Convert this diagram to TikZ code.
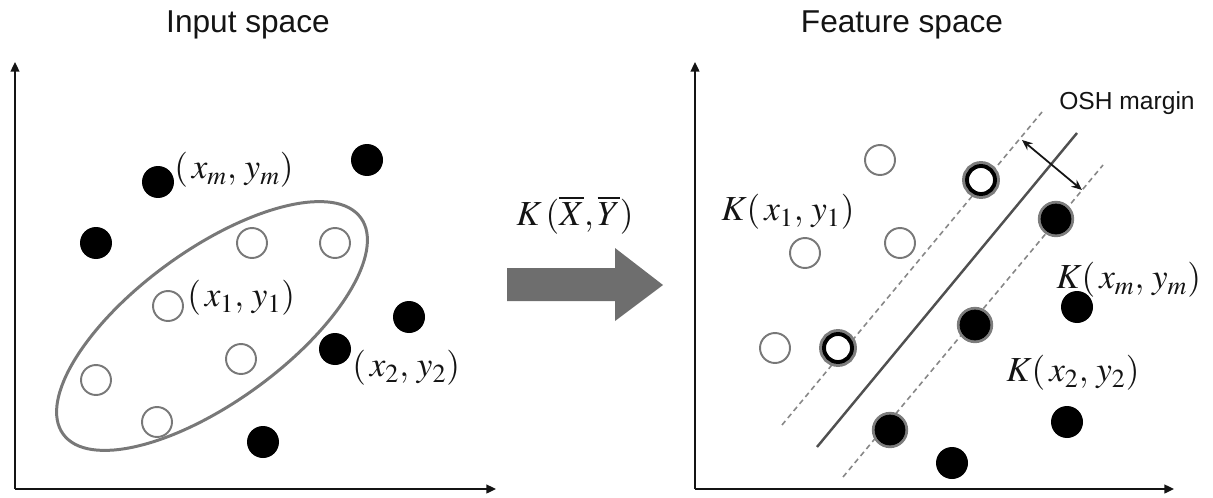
\documentclass[tikz,border=0pt]{standalone}
\usepackage{mathptmx}
\usepackage{fontspec}
\setmainfont{Liberation Serif}
\setsansfont{Liberation Sans}
\usetikzlibrary{
    arrows.meta,
    positioning,
    shapes.geometric
}
\definecolor{ink}{RGB}{20,20,20}
\definecolor{ringgray}{RGB}{120,120,120}
\definecolor{halogray}{RGB}{125,125,125}
\definecolor{hypergray}{RGB}{80,80,80}
\definecolor{dashgray}{RGB}{135,135,135}
\definecolor{mapgray}{RGB}{110,110,110}
\tikzset{
    line cap=round,
    line join=round,
    axis/.style={
        -{Triangle[length=5.5pt,width=5pt]},
        draw=ink,
        line width=1.1pt
    },
    blackdot/.style={
        circle,
        fill=black,
        minimum size=0.64cm,
        inner sep=0pt,
        outer sep=0pt
    },
    opendot/.style={
        circle,
        draw=ringgray,
        fill=white,
        line width=1.1pt,
        minimum size=0.6cm,
        inner sep=0pt
    },
    svopen/.style={
        circle,
        draw=black,
        fill=white,
        line width=2.2pt,
        minimum size=0.56cm,
        inner sep=0pt,
        preaction={draw=halogray, line width=5.6pt}
    },
    svfilled/.style={
        circle,
        draw=black,
        fill=black,
        line width=0.4pt,
        minimum size=0.6cm,
        inner sep=0pt,
        preaction={draw=halogray, line width=3.6pt}
    },
    cluster/.style={
        ellipse,
        draw=ringgray,
        line width=1.7pt,
        inner sep=0pt
    },
    hyperplane/.style={
        draw=hypergray,
        line width=1.4pt
    },
    marginline/.style={
        draw=dashgray,
        line width=0.9pt,
        dash pattern=on 3pt off 2.2pt,
        line cap=butt
    },
    marginarrow/.style={
        {Stealth[length=6pt,width=5pt]}-{Stealth[length=6pt,width=5pt]},
        draw=ink,
        line width=1pt
    },
    paneltitle/.style={
        font=\sffamily\fontsize{18}{22}\selectfont,
        text=ink
    },
    annot/.style={
        font=\sffamily\fontsize{14}{17}\selectfont,
        text=ink
    },
    ptlabel/.style={
        font=\fontsize{20}{24}\selectfont,
        text=ink,
        anchor=west,
        inner sep=0pt
    }
}

\begin{document}
\begin{tikzpicture}[x=0.02cm, y=-0.02cm]
\useasboundingbox (0,0) rectangle (1213,497);

% Input space
\node[paneltitle] (intitle) at (248,25) {Input space};
\coordinate (in-o) at (15,489);
\coordinate (in-y) at (15,62);
\coordinate (in-x) at (496,489);
\draw[axis] (in-o) -- (in-y);
\draw[axis] (in-o) -- (in-x);

\node[cluster, minimum width=7.36cm, minimum height=3.04cm, rotate=36] (incluster) at (212,326) {};

\foreach \px/\py [count=\i] in {252/243, 335/243, 168/306, 241/359, 96/380, 157/422} {
    \node[opendot] (in-w\i) at (\px,\py) {};
}
\foreach \px/\py [count=\i] in {158/182, 367/160, 96/243, 409/317, 335/349, 263/442} {
    \node[blackdot] (in-b\i) at (\px,\py) {};
}

\node[ptlabel] (lblm) at (174,170) {$(\,x_m,\,y_m)$};
\node[ptlabel] (lbl1) at (187,298) {$(\,x_1,\,y_1)$};
\node[ptlabel] (lbl2) at (352,368) {$(\,x_2,\,y_2)$};

% Kernel mapping
\node[ptlabel, anchor=center] (kernel) at (575,215) {$K\,(\overline{X},\overline{Y})$};
\fill[mapgray] (507,268) -- (615,268) -- (615,248) -- (663,285)
    -- (615,321) -- (615,301) -- (507,301) -- cycle;

% Feature space
\node[paneltitle] (fttitle) at (902,25) {Feature space};
\coordinate (ft-o) at (695,489);
\coordinate (ft-y) at (695,62);
\coordinate (ft-x) at (1174,489);
\draw[axis] (ft-o) -- (ft-y);
\draw[axis] (ft-o) -- (ft-x);

% Hyperplane and margins
\coordinate (hp-a) at (817,447);
\coordinate (hp-b) at (1077,133);
\coordinate (up-a) at (782,425);
\coordinate (up-b) at (1042,112);
\coordinate (lo-a) at (843,477);
\coordinate (lo-b) at (1103,165);
\draw[marginline] (up-a) -- (up-b);
\draw[marginline] (lo-a) -- (lo-b);
\draw[hyperplane] (hp-a) -- (hp-b);

\coordinate (mg-a) at (1022,140);
\coordinate (mg-b) at (1082,190);
\draw[marginarrow] (mg-a) -- (mg-b);
\node[annot] (osh) at (1127,103) {OSH margin};

\foreach \px/\py [count=\i] in {880/160, 900/243, 805/253, 775/348} {
    \node[opendot] (ft-w\i) at (\px,\py) {};
}
\foreach \px/\py [count=\i] in {981/180, 838/348} {
    \node[svopen] (ft-sw\i) at (\px,\py) {};
}
\foreach \px/\py [count=\i] in {1056/219, 975/325, 890/430} {
    \node[svfilled] (ft-sb\i) at (\px,\py) {};
}
\foreach \px/\py [count=\i] in {1077/307, 1067/422, 952/463} {
    \node[blackdot] (ft-b\i) at (\px,\py) {};
}

\node[ptlabel] (klbl1) at (721,212) {$K(\,x_1,\,y_1)$};
\node[ptlabel] (klblm) at (1056,280) {$K(\,x_m,\,y_m)$};
\node[ptlabel] (klbl2) at (1006,373) {$K(\,x_2,\,y_2)$};
\end{tikzpicture}
\end{document}
